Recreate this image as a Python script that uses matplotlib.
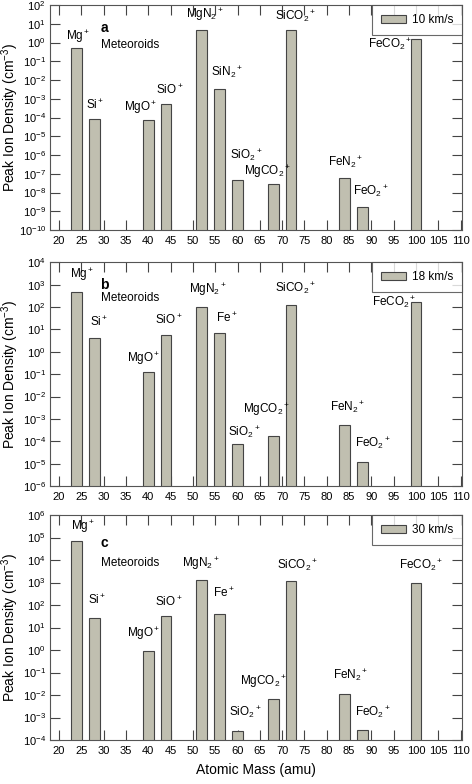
import numpy as np
import matplotlib
matplotlib.use("Agg")
import matplotlib.pyplot as plt
from matplotlib.ticker import LogLocator, LogFormatterMathtext, NullLocator

plt.rcParams['font.family'] = ['Liberation Sans', 'DejaVu Sans']
plt.rcParams['mathtext.fontset'] = 'custom'
plt.rcParams['mathtext.rm'] = 'Liberation Sans'
plt.rcParams['mathtext.it'] = 'Liberation Sans:italic'
plt.rcParams['mathtext.bf'] = 'Liberation Sans:bold'

# atomic masses of the ions
mass_a = [24, 28, 40, 44, 52, 56, 60, 68, 72, 84, 88, 100]
mass_bc = [24, 28, 40, 44, 52, 56, 60, 68, 72, 84, 88, 100]

ions_a = ['Mg$^+$', 'Si$^+$', 'MgO$^+$', 'SiO$^+$', 'MgN$_2$$^+$', 'SiN$_2$$^+$',
          'SiO$_2$$^+$', 'MgCO$_2$$^+$', 'SiCO$_2$$^+$', 'FeN$_2$$^+$',
          'FeO$_2$$^+$', 'FeCO$_2$$^+$']
ions_bc = ['Mg$^+$', 'Si$^+$', 'MgO$^+$', 'SiO$^+$', 'MgN$_2$$^+$', 'Fe$^+$',
           'SiO$_2$$^+$', 'MgCO$_2$$^+$', 'SiCO$_2$$^+$', 'FeN$_2$$^+$',
           'FeO$_2$$^+$', 'FeCO$_2$$^+$']

# peak ion densities (cm^-3)
dens_10 = [0.5, 8e-5, 7.4e-5, 5.5e-4, 4.8, 3.5e-3, 4.5e-8, 3e-8, 4.6, 6.2e-8, 1.7e-9, 1.58]
dens_18 = [455, 4.0, 0.12, 5.6, 97, 7.2, 7.8e-5, 1.7e-4, 120, 5.1e-4, 1.2e-5, 174]
dens_30 = [7e4, 26, 0.87, 31, 1250, 39, 2.5e-4, 6.4e-3, 1170, 1.07e-2, 2.9e-4, 950]

speeds = ['10 km/s', '18 km/s', '30 km/s']
panel_tags = ['a', 'b', 'c']
ylims = [(1e-10, 1e2), (1e-6, 1e4), (1e-4, 1e6)]

# label anchor positions (mass, log10 density)
lab_x_a = [24.3, 28.1, 38.2, 44.8, 52.8, 57.7, 62.0, 66.6, 73.0, 84.1, 89.9, 94.3]
lab_y_a = [0.32, -3.33, -3.45, -2.52, 1.48, -1.55, -6.0, -6.89, 1.39, -6.35, -7.92, -0.08]
lab_x_b = [25.1, 29.0, 39.0, 44.5, 53.4, 57.6, 61.5, 66.4, 73.1, 84.6, 90.3, 95.0]
lab_y_b = [3.43, 1.35, -0.32, 1.42, 2.76, 1.5, -3.57, -2.6, 2.84, -2.45, -4.09, 2.24]
lab_x_c = [25.4, 28.5, 39.0, 44.5, 51.9, 57.0, 61.7, 65.9, 73.5, 85.3, 90.4, 101.2]
lab_y_c = [5.48, 2.22, 0.71, 2.15, 3.85, 2.52, -2.74, -1.41, 3.78, -1.11, -2.74, 3.78]
tag_y = [0.77, 2.99, 4.74]
met_y = [-0.12, 2.42, 3.85]

panels = [
    (mass_a, dens_10, ions_a, lab_x_a, lab_y_a),
    (mass_bc, dens_18, ions_bc, lab_x_b, lab_y_b),
    (mass_bc, dens_30, ions_bc, lab_x_c, lab_y_c),
]

fig = plt.figure(figsize=(4.72, 7.84), dpi=100)
boxes = [(0.106, 0.7066, 0.873, 0.287),
         (0.106, 0.3801, 0.873, 0.2853),
         (0.106, 0.0561, 0.873, 0.287)]

bar_color = '#c0bfb0'
edge = '#444444'

for i, (mass, dens, ions, lx, ly) in enumerate(panels):
    ax = fig.add_axes(boxes[i])
    ax.bar(mass, dens, width=2.4, color=bar_color, edgecolor=edge, linewidth=0.8,
           label=speeds[i], zorder=2)
    ax.set_yscale('log')
    ax.set_ylim(*ylims[i])
    ax.set_xlim(18, 110.3)
    ax.set_xticks(np.arange(20, 111, 5))
    ax.yaxis.set_major_locator(LogLocator(base=10, numticks=30))
    ax.yaxis.set_minor_locator(NullLocator())
    ax.yaxis.set_major_formatter(LogFormatterMathtext())
    ax.tick_params(direction='in', length=7, width=0.8, color='#444444',
                   top=True, right=True, labelsize=8, pad=4)
    ax.tick_params(axis='y', pad=3)
    ax.set_axisbelow(True)
    for sp in ax.spines.values():
        sp.set_color('#555555')
        sp.set_linewidth(0.8)

    for name, x, y in zip(ions, lx, ly):
        ax.text(x, 10 ** y, name, ha='center', va='center', fontsize=8.5)
    ax.text(30.1, 10 ** tag_y[i], panel_tags[i], fontsize=10, fontweight='bold',
            ha='center', va='center')
    ax.text(29.5, 10 ** met_y[i], 'Meteoroids', fontsize=8.5, ha='left', va='center')

    leg = ax.legend(loc='upper right', fontsize=8.5, frameon=True, fancybox=False,
                    borderaxespad=0, handlelength=2.1, handleheight=0.7,
                    borderpad=0.75, handletextpad=0.5)
    leg.get_frame().set_edgecolor('#444444')
    leg.get_frame().set_linewidth(0.8)

    ax.set_ylabel('Peak Ion Density (cm$^{-3}$)', fontsize=10)
    ax.yaxis.set_label_coords(-0.071, 0.5)

fig.text(0.542, 0.009, 'Atomic Mass (amu)', ha='center', va='bottom', fontsize=10)

fig.savefig('out.png', dpi=100)
